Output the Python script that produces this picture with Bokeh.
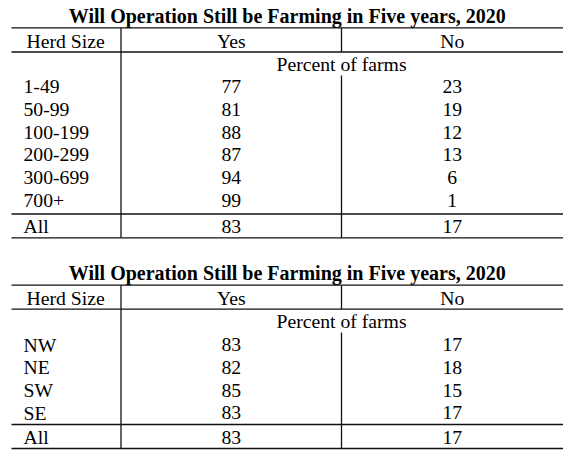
from bokeh.plotting import figure
from bokeh.models import ColumnDataSource, Range1d
from bokeh.core.properties import value
from bokeh.embed import file_html
from bokeh.resources import INLINE

# ---- data ----
title = "Will Operation Still be Farming in Five years, 2020"
column_labels = ["Herd Size", "Yes", "No"]
unit_label = "Percent of farms"

herd_sizes = ["1-49", "50-99", "100-199", "200-299", "300-699", "700+"]
herd_yes = [77, 81, 88, 87, 94, 99]
herd_no = [23, 19, 12, 13, 6, 1]
herd_all_yes = 83
herd_all_no = 17

regions = ["NW", "NE", "SW", "SE"]
region_yes = [83, 82, 85, 83]
region_no = [17, 18, 15, 17]
region_all_yes = 83
region_all_no = 17

total_label = "All"

# ---- layout (picture pixel coordinates) ----
W, H = 570, 456
p = figure(width=W, height=H, output_backend="svg", toolbar_location=None,
           x_range=Range1d(0, W), y_range=Range1d(H, 0),
           min_border=0, x_axis_location=None, y_axis_location=None)
p.grid.visible = False
p.outline_line_color = None
p.background_fill_color = "white"
p.border_fill_color = "white"

FONT = value("Liberation Serif")
BODY_PX = 19.7
LINE = "#111111"
LW = 1.3

x_left, x_right = 11, 562.5
x_v1, x_v2 = 120.5, 341
x_label = 23
x_yes = (x_v1 + x_v2) / 2
x_no = (x_v2 + x_right) / 2

layouts = [
    dict(title=15, top=27.3, header=40, hline=51.5, pct=63.5, gap_end=75,
         first=86, step=22.8, sep=213.5, all=225.5, bottom=237.3),
    dict(title=272.5, top=284.7, header=297.3, hline=308.7, pct=320.8, gap_end=332,
         first=344, step=22.8, sep=424, all=436.7, bottom=448),
]
tables = [
    (herd_sizes, herd_yes, herd_no, herd_all_yes, herd_all_no),
    (regions, region_yes, region_no, region_all_yes, region_all_no),
]


def txt(xs, ys, texts, align, bold=False, px=BODY_PX):
    src = ColumnDataSource(dict(x=xs, y=ys, t=texts))
    p.text(x="x", y="y", text="t", source=src, text_font=FONT,
           text_font_size=value(f"{px}px"), text_align=align,
           text_baseline="middle", text_color="#000000",
           text_font_style="bold" if bold else "normal")


for (labels, yes, no, ay, an), L in zip(tables, layouts):
    n = len(labels)
    ys = [L["first"] + i * L["step"] for i in range(n)]
    txt([(x_left + x_right) / 2], [L["title"]], [title], "center", bold=True, px=20)
    txt([x_label + 3], [L["header"]], [column_labels[0]], "left")
    txt([x_yes, x_no], [L["header"]] * 2, column_labels[1:], "center")
    txt([x_v2], [L["pct"]], [unit_label], "center")
    txt([x_label] * (n + 1), ys + [L["all"]], labels + [total_label], "left")
    txt([x_yes] * (n + 1), ys + [L["all"]], [str(v) for v in yes] + [str(ay)], "center")
    txt([x_no] * (n + 1), ys + [L["all"]], [str(v) for v in no] + [str(an)], "center")
    hy = [L["top"], L["hline"], L["sep"], L["bottom"]]
    p.segment(x0=[x_left] * 4, x1=[x_right] * 4, y0=hy, y1=hy,
              line_color=LINE, line_width=LW)
    p.segment(x0=[x_v1, x_v2, x_v2], x1=[x_v1, x_v2, x_v2],
              y0=[L["top"], L["top"], L["gap_end"]],
              y1=[L["bottom"], L["hline"], L["bottom"]],
              line_color=LINE, line_width=LW)

open("out.html", "w").write(file_html(p, INLINE))
